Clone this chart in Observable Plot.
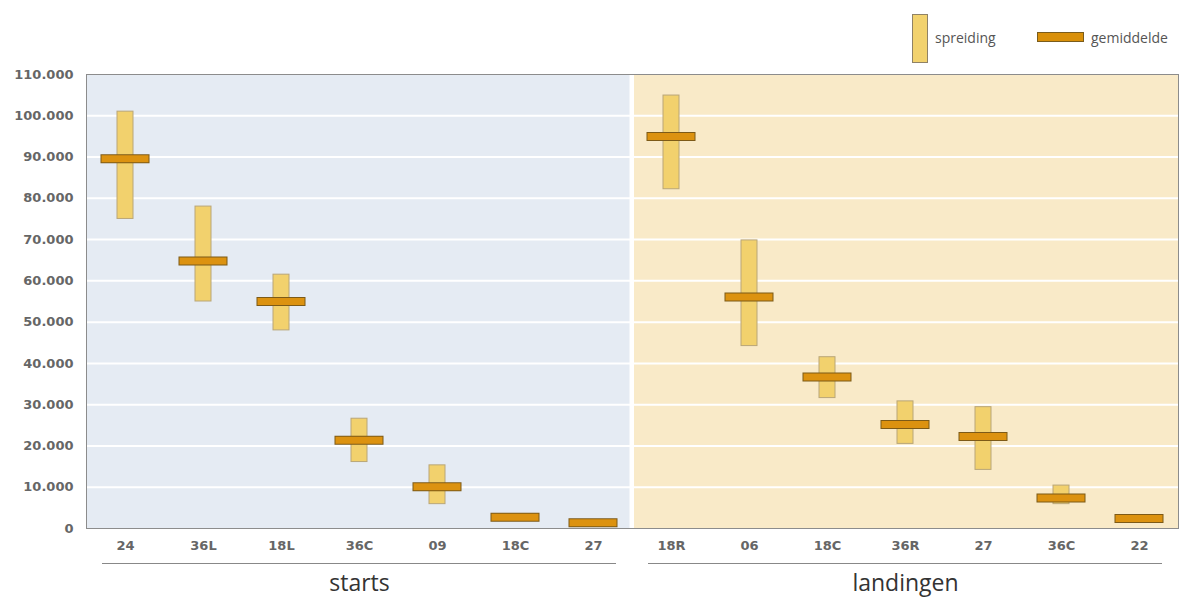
<!DOCTYPE html>
<html><head><meta charset="utf-8">
<script src="https://cdn.jsdelivr.net/npm/d3@7"></script>
<script src="https://cdn.jsdelivr.net/npm/@observablehq/plot@0.6"></script>
<style>
body{margin:0;background:#fff;width:1183px;height:599px;overflow:hidden;position:relative;font-family:"Open Sans",sans-serif;}
#legend{position:absolute;left:0;top:0;width:1183px;height:70px;z-index:2;}
.sw{position:absolute;box-sizing:border-box;}
.lbl{position:absolute;font-size:14px;color:#555;line-height:18px;}
#chart{position:absolute;left:0;top:60px;}
</style></head><body>
<div id="legend">
  <div class="sw" style="left:912px;top:14px;width:16px;height:49px;background:#f2d26e;border:1px solid #8f8266;"></div>
  <div class="lbl" style="left:935px;top:29px;">spreiding</div>
  <div class="sw" style="left:1037px;top:32px;width:47px;height:10px;background:#d9900a;border:1px solid #7a5c1c;"></div>
  <div class="lbl" style="left:1091px;top:29px;">gemiddelde</div>
</div>
<div id="chart"></div>
<script>
// data
const startsRunways = ["24","36L","18L","36C","09","18C","27"];
const startsMin  = [75000, 55000, 48000, 16100, 5900, 2000, 900];
const startsMax  = [101000, 78000, 61500, 26600, 15300, 3400, 1900];
const startsMean = [89600, 64800, 55000, 21400, 10100, 2700, 1400];

const landingRunways = ["18R","06","18C","36R","27","36C","22"];
const landingMin  = [82200, 44200, 31600, 20500, 14200, 5900, 1800];
const landingMax  = [104900, 69800, 41500, 30800, 29400, 10400, 2900];
const landingMean = [95000, 56100, 36700, 25200, 22300, 7400, 2400];

const groupNames = ["starts", "landingen"];
const yTicks = [0,10000,20000,30000,40000,50000,60000,70000,80000,90000,100000,110000];

const rows = [
  ...startsRunways.map((r,i)=>({key:"s:"+r, group:"starts", min:startsMin[i], max:startsMax[i], mean:startsMean[i]})),
  ...landingRunways.map((r,i)=>({key:"l:"+r, group:"landingen", min:landingMin[i], max:landingMax[i], mean:landingMean[i]}))
];
const keys = rows.map(d=>d.key);
const groups = [
  {name:groupNames[0], first:"s:"+startsRunways[0], last:"s:"+startsRunways[startsRunways.length-1], mid:"s:"+startsRunways[3]},
  {name:groupNames[1], first:"l:"+landingRunways[0], last:"l:"+landingRunways[landingRunways.length-1], mid:"l:"+landingRunways[3]}
];
const bgFill = {starts:"#e5ebf3", landingen:"#f9eac8"};
const lastStart = groups[0].last, firstLand = groups[1].first;
const yTop = yTicks[yTicks.length-1];
const nl = d3.formatLocale({decimal:",", thousands:".", grouping:[3], currency:["€",""]}).format(",");

const chart = Plot.plot({
  width:1183, height:539,
  marginLeft:86, marginRight:5, marginTop:14, marginBottom:71,
  style:{fontFamily:"DejaVu Sans, Verdana, sans-serif", fontSize:"13px", background:"white", color:"#666"},
  x:{domain:keys, padding:0, axis:null},
  y:{domain:[0,yTop], axis:null},
  marks:[
    Plot.barY(rows.filter(d=>d.key!==lastStart && d.key!==firstLand), {x:"key", y1:()=>0, y2:()=>yTop, fill:d=>bgFill[d.group], shapeRendering:"crispEdges"}),
    Plot.barY(rows.filter(d=>d.key===lastStart), {x:"key", y1:()=>0, y2:()=>yTop, fill:d=>bgFill[d.group], insetRight:2.5}),
    Plot.barY(rows.filter(d=>d.key===firstLand), {x:"key", y1:()=>0, y2:()=>yTop, fill:d=>bgFill[d.group], insetLeft:2}),
    Plot.ruleY(yTicks.slice(1,-1), {stroke:"white", strokeWidth:2}),
    Plot.barY(rows, {x:"key", y1:"min", y2:"max", fill:"#f2d16d", stroke:"#b9a678", strokeWidth:1, insetLeft:31, insetRight:31}),
    Plot.tickY(rows, {x:"key", y:"mean", stroke:"#7d5a17", strokeWidth:9, insetLeft:14.5, insetRight:14.5}),
    Plot.tickY(rows, {x:"key", y:"mean", stroke:"#dc9210", strokeWidth:7, insetLeft:15.5, insetRight:15.5}),
    Plot.frame({stroke:"#8c8c8c"}),
    Plot.axisY(yTicks, {tickSize:0, tickPadding:13, tickFormat:nl, fill:"#666", fontSize:13, fontWeight:"bold"}),
    Plot.axisX({tickSize:0, tickPadding:12, tickFormat:k=>k.slice(2), fill:"#666", fontSize:13, fontWeight:"bold"}),
    Plot.ruleY(groups, {y:()=>0, x1:"first", x2:"last", dy:35, insetLeft:16, insetRight:16, stroke:"#888", strokeWidth:1}),
    Plot.text(groups, {x:"mid", y:()=>0, text:"name", dy:55, fontSize:23, fontFamily:"Open Sans, sans-serif", fill:"#333"})
  ]
});
document.getElementById("chart").appendChild(chart);
</script>
</body></html>
